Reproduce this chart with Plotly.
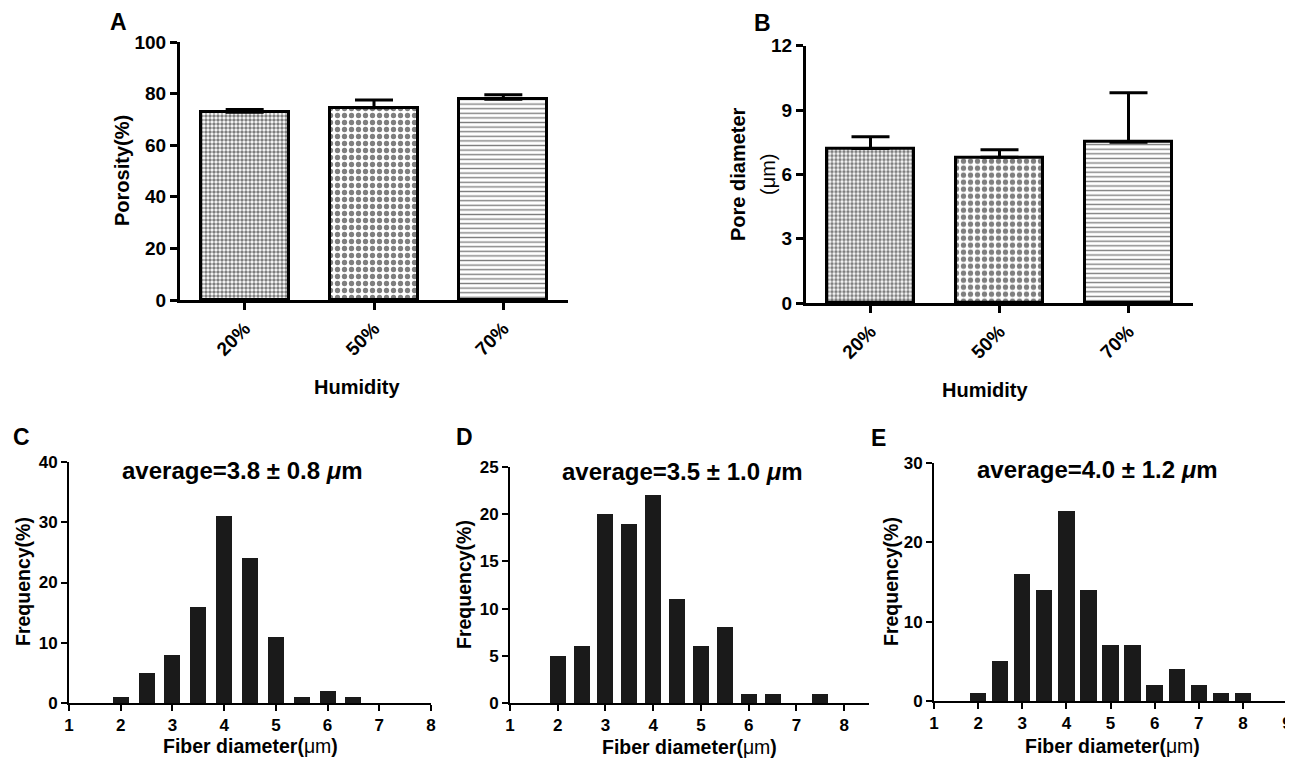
import plotly.graph_objects as go

# page body has an 8px default margin; figure fills the rest of the 1293x759 window
OFF = 8
W, H = 1293 - OFF, 759 - OFF

# ---------------- data ----------------
humidity = ["20%", "50%", "70%"]
porosity = [72.8, 74.5, 77.8]
porosity_err = [1.0, 3.0, 1.8]
pore_diam = [7.2, 6.8, 7.5]
pore_diam_err = [0.55, 0.35, 2.3]

bins_c = [2, 2.5, 3, 3.5, 4, 4.5, 5, 5.5, 6, 6.5]
freq_c = [1, 5, 8, 16, 31, 24, 11, 1, 2, 1]
bins_d = [2, 2.5, 3, 3.5, 4, 4.5, 5, 5.5, 6, 6.5, 7.5]
freq_d = [5, 6, 20, 19, 22, 11, 6, 8, 1, 1, 1]
bins_e = [2, 2.5, 3, 3.5, 4, 4.5, 5, 5.5, 6, 6.5, 7, 7.5, 8]
freq_e = [1, 5, 16, 14, 24, 14, 7, 7, 2, 4, 2, 1, 1]

titles = ["average=3.8 ± 0.8 <i>μ</i>m", "average=3.5 ± 1.0 <i>μ</i>m", "average=4.0 ± 1.2 <i>μ</i>m"]

FONT = "Liberation Sans, Arial, sans-serif"


def px_x(p):
    return (p - OFF) / W


def px_y(p):
    return 1 - (p - OFF) / H


fig = go.Figure()

patterns = [
    dict(shape=".", size=4, solidity=0.6, fgcolor="black", bgcolor="white"),
    dict(shape=".", size=7, solidity=0.45, fgcolor="black", bgcolor="white"),
    dict(shape="-", size=4.6, solidity=0.3, fgcolor="black", bgcolor="white"),
]

# Panel A & B bars
for vals, errs, xa, ya in [(porosity, porosity_err, "x", "y"), (pore_diam, pore_diam_err, "x2", "y2")]:
    for i in range(3):
        fig.add_trace(go.Bar(
            x=[i], y=[vals[i]], width=0.68, xaxis=xa, yaxis=ya,
            marker=dict(color="white", line=dict(color="black", width=3), pattern=patterns[i]),
            error_y=dict(type="data", symmetric=False, array=[errs[i]], arrayminus=[0],
                         color="black", thickness=3, width=19),
            showlegend=False, hoverinfo="skip",
        ))

# Histograms
for bins, freq, wd, xa, ya in [(bins_c, freq_c, 0.31, "x3", "y3"),
                               (bins_d, freq_d, 0.335, "x4", "y4"),
                               (bins_e, freq_e, 0.37, "x5", "y5")]:
    fig.add_trace(go.Bar(x=bins, y=freq, width=wd, xaxis=xa, yaxis=ya,
                         marker=dict(color="#1a1a1a", line=dict(width=0)),
                         showlegend=False, hoverinfo="skip"))

ax_common_top = dict(showline=True, linecolor="black", linewidth=3, ticks="outside",
                     ticklen=7, tickwidth=3, tickcolor="black", showgrid=False, zeroline=False,
                     automargin=False,
                     tickfont=dict(family=FONT, size=19, color="black", weight="bold"))
ax_common_bot = dict(showline=True, linecolor="black", linewidth=2, ticks="outside",
                     ticklen=6, tickwidth=2, tickcolor="black", showgrid=False, zeroline=False,
                     automargin=False,
                     tickfont=dict(family=FONT, size=17, color="black", weight="bold"))

layout = dict(
    width=W, height=H, margin=dict(l=0, r=0, t=0, b=0, autoexpand=False),
    paper_bgcolor="white", plot_bgcolor="rgba(0,0,0,0)", bargap=0,
    font=dict(family=FONT, color="black"),
)

xt_font = dict(family=FONT, size=19, color="black", weight="bold")
# Panel A
layout["xaxis"] = dict(ax_common_top, domain=[px_x(180), px_x(568)], range=[-0.5, 2.5],
                       tickvals=[0, 1, 2], ticktext=humidity, tickangle=-45, anchor="y",
                       tickfont=xt_font)
layout["yaxis"] = dict(ax_common_top, domain=[px_y(300), px_y(42)], range=[0, 100], dtick=20, anchor="x")
# Panel B
layout["xaxis2"] = dict(ax_common_top, domain=[px_x(806), px_x(1193)], range=[-0.5, 2.5],
                        tickvals=[0, 1, 2], ticktext=humidity, tickangle=-45, anchor="y2",
                        tickfont=xt_font)
layout["yaxis2"] = dict(ax_common_top, domain=[px_y(303), px_y(45.7)], range=[0, 12], dtick=3, anchor="x2")
# Panel C
layout["xaxis3"] = dict(ax_common_bot, domain=[px_x(69), px_x(431)], range=[1, 8], dtick=1, anchor="y3")
layout["yaxis3"] = dict(ax_common_bot, domain=[px_y(703), px_y(462)], range=[0, 40], dtick=10, anchor="x3")
# Panel D
layout["xaxis4"] = dict(ax_common_bot, domain=[px_x(510), px_x(869)], range=[1, 8.52],
                        tickvals=[1, 2, 3, 4, 5, 6, 7, 8], anchor="y4")
layout["yaxis4"] = dict(ax_common_bot, domain=[px_y(703), px_y(467)], range=[0, 25], dtick=5, anchor="x4")
# Panel E
layout["xaxis5"] = dict(ax_common_bot, domain=[px_x(934), px_x(1287)], range=[1, 9], dtick=1, anchor="y5")
layout["yaxis5"] = dict(ax_common_bot, domain=[px_y(701), px_y(463)], range=[0, 30], dtick=10, anchor="x5")

fig.update_layout(**layout)


def ann(text, x, y, size, angle=0, bold=True, xanchor="center", yanchor="middle"):
    fig.add_annotation(text=text, x=px_x(x), y=px_y(y), xref="paper", yref="paper",
                       showarrow=False, textangle=angle, xanchor=xanchor, yanchor=yanchor,
                       font=dict(family=FONT, size=size, color="black",
                                 weight="bold" if bold else "normal"))


# panel letters
ann("A", 118, 22, 23)
ann("B", 762, 23, 23)
ann("C", 21, 437, 23)
ann("D", 464, 437, 23)
ann("E", 878, 438, 23)

# axis titles top
ann("Porosity(%)", 122, 171, 20, angle=-90)
ann("Humidity", 357, 387, 20)
ann("Pore diameter", 738, 174, 20, angle=-90)
ann("(μm)", 768, 174, 20, angle=-90, bold=False)
ann("Humidity", 985, 390, 20)

# axis titles bottom
ann("Frequency(%)", 23, 582, 19.5, angle=-90)
ann("Frequency(%)", 464, 585, 19.5, angle=-90)
ann("Frequency(%)", 891, 582, 19.5, angle=-90)
ann("Fiber diameter(<span style='font-weight:normal'>μm</span>)", 250, 746, 19.5)
ann("Fiber diameter(<span style='font-weight:normal'>μm</span>)", 689, 747, 19.5)
ann("Fiber diameter(<span style='font-weight:normal'>μm</span>)", 1112, 746, 19.5)

# histogram titles
ann(titles[0], 242, 470, 24)
ann(titles[1], 682, 471, 24)
ann(titles[2], 1097, 469, 24)

fig.write_html("out.html")
